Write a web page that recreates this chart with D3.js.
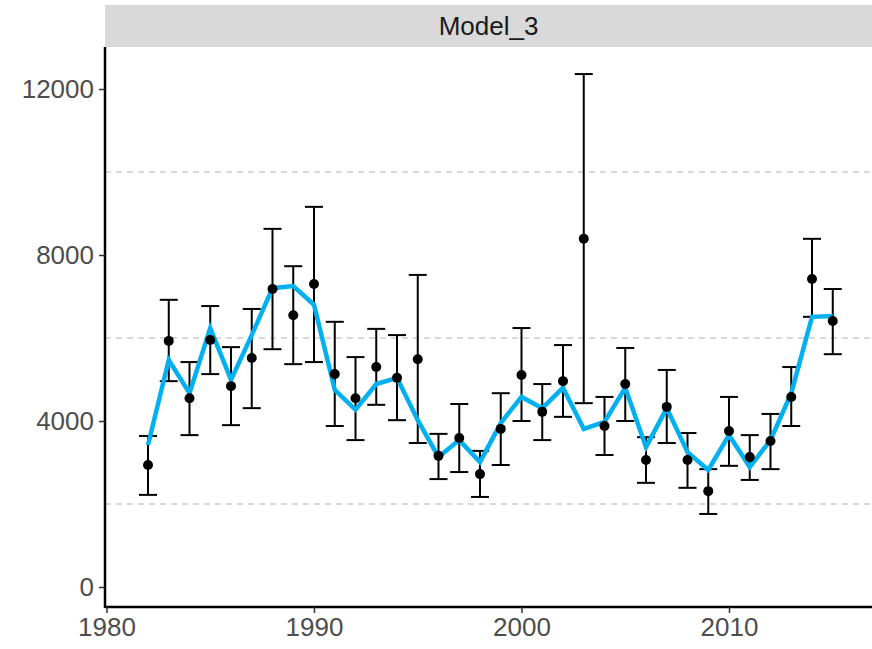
<!DOCTYPE html>
<html lang="en">
<head>
<meta charset="UTF-8">
<title>Model_3</title>
<style>
  body { margin: 0; background: #fff; }
  svg { display: block; font-family: 'Liberation Sans', Arial, sans-serif; }
  .grid line { stroke: #b3b3b3; stroke-dasharray: 6 5; stroke-width: 1; }
</style>
</head>
<body>
<svg width="872" height="649"></svg>
<script src="https://d3js.org/d3.v7.min.js"></script>
<script>
// observed estimates with interval, and model fit
const years = [1982,1983,1984,1985,1986,1987,1988,1989,1990,1991,1992,1993,1994,1995,1996,1997,1998,1999,2000,2001,2002,2003,2004,2005,2006,2007,2008,2009,2010,2011,2012,2013,2014,2015];
const obs   = [2940,5930,4550,5950,4840,5520,7180,6550,7300,5130,4550,5300,5040,5490,3160,3590,2720,3810,5110,4220,4960,8390,3880,4890,3060,4340,3060,2310,3760,3130,3520,4580,7420,6410];
const lower = [2220,4960,3660,5130,3900,4310,5730,5370,5420,3880,3540,4390,4020,3470,2600,2770,2170,2940,4000,3540,4100,4430,3180,4000,2510,3470,2390,1760,2920,2580,2840,3880,6510,5610];
const upper = [3640,6920,5420,6770,5780,6700,8630,7730,9160,6390,5540,6220,6070,7520,3690,4410,3280,4670,6240,4890,5830,12360,4580,5760,3610,5230,3710,2840,4580,3660,4170,5300,8390,7180];
const fit   = [3420,5470,4670,6240,4990,6070,7200,7250,6800,4750,4270,4890,5040,4020,3130,3540,3010,3950,4580,4310,4800,3810,3980,4800,3370,4310,3250,2820,3660,2890,3540,4670,6510,6530];
const yTicks = [0,4000,8000,12000];
const xTicks = [1980,1990,2000,2010,2020];
const panelTitle = "Model_3";

const svg = d3.select("svg");
const pLeft = 105, pRight = 872, pTop = 47, pBottom = 606;

const x = d3.scaleLinear().domain([1980, 2010]).range([106.5, 729]);
const y = d3.scaleLinear().domain([0, 12000]).range([587, 89]);

// strip
svg.append("rect").attr("x", pLeft).attr("y", 5).attr("width", pRight - pLeft).attr("height", pTop - 5)
  .attr("fill", "#d9d9d9");
svg.append("text").attr("x", (pLeft + pRight) / 2).attr("y", 35).attr("text-anchor", "middle")
  .attr("font-size", 26).attr("fill", "#1a1a1a").text(panelTitle);

// dashed grid at minor breaks
svg.append("g").attr("class", "grid").selectAll("line")
  .data([2000, 6000, 10000]).join("line")
  .attr("x1", pLeft).attr("x2", pRight).attr("y1", d => y(d)).attr("y2", d => y(d));

// axes
svg.append("g").attr("transform", `translate(${pLeft},0)`)
  .call(d3.axisLeft(y).tickValues(yTicks).tickFormat(d3.format("d")).tickSize(6).tickPadding(5))
  .call(g => g.attr("font-size", 26).attr("font-family", null))
  .call(g => g.selectAll(".tick text").attr("fill", "#4d4d4d"))
  .call(g => g.select(".domain").attr("d", `M0,${pTop}V${pBottom + 2}`).attr("stroke", "#000").attr("stroke-width", 2.5))
  .call(g => g.selectAll(".tick line").attr("stroke", "#333").attr("stroke-width", 1.5));

svg.append("g").attr("transform", `translate(0,${pBottom + 1})`)
  .call(d3.axisBottom(x).tickValues(xTicks).tickFormat(d3.format("d")).tickSize(6).tickPadding(2))
  .call(g => g.attr("font-size", 26).attr("font-family", null))
  .call(g => g.selectAll(".tick text").attr("fill", "#4d4d4d").attr("dy", "0.8em"))
  .call(g => g.select(".domain").attr("d", `M${pLeft},0H${pRight}`).attr("stroke", "#000").attr("stroke-width", 2.5))
  .call(g => g.selectAll(".tick line").attr("stroke", "#333").attr("stroke-width", 1.5));

const data = years.map((yr, i) => ({ yr, o: obs[i], lo: lower[i], hi: upper[i], f: fit[i] }));

// error bars
const eb = svg.append("g").attr("stroke", "#000").attr("stroke-width", 2);
eb.selectAll(".v").data(data).join("line")
  .attr("x1", d => x(d.yr)).attr("x2", d => x(d.yr)).attr("y1", d => y(d.lo)).attr("y2", d => y(d.hi));
eb.selectAll(".t").data(data).join("line")
  .attr("x1", d => x(d.yr) - 9).attr("x2", d => x(d.yr) + 9).attr("y1", d => y(d.hi)).attr("y2", d => y(d.hi));
eb.selectAll(".b").data(data).join("line")
  .attr("x1", d => x(d.yr) - 9).attr("x2", d => x(d.yr) + 9).attr("y1", d => y(d.lo)).attr("y2", d => y(d.lo));

// fit line
svg.append("path").datum(data)
  .attr("fill", "none").attr("stroke", "#00b0f0").attr("stroke-width", 4.5)
  .attr("d", d3.line().x(d => x(d.yr)).y(d => y(d.f)));

// points
svg.append("g").selectAll("circle").data(data).join("circle")
  .attr("cx", d => x(d.yr)).attr("cy", d => y(d.o)).attr("r", 5).attr("fill", "#000");
</script>
</body>
</html>
